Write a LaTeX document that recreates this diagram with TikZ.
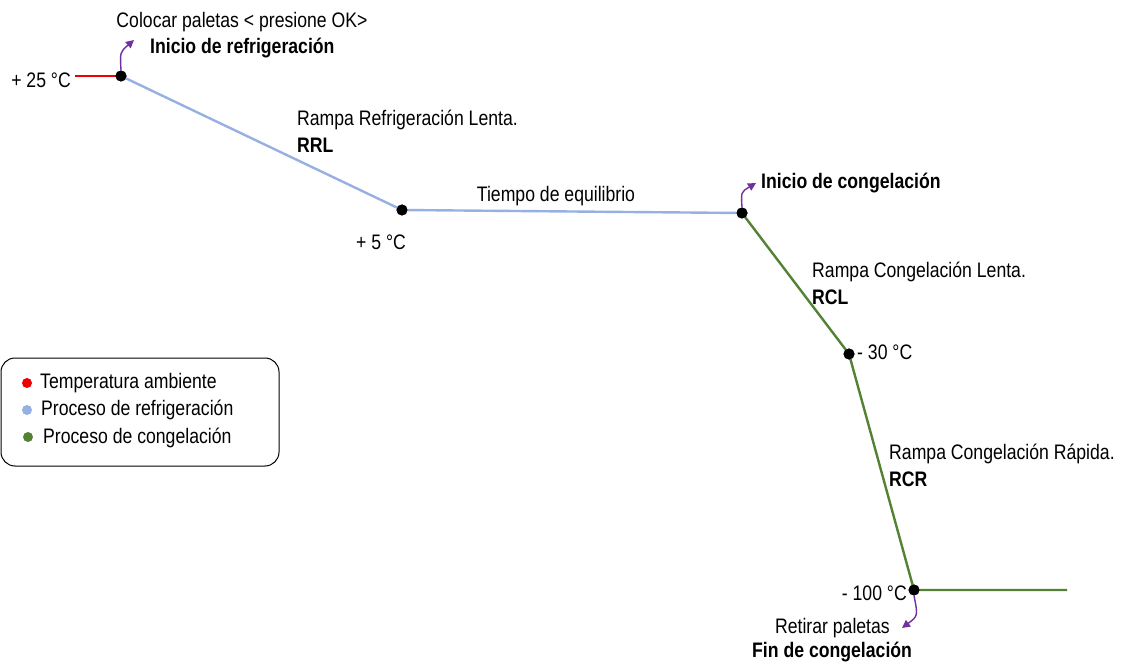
\documentclass[tikz,border=0pt]{standalone}
\usepackage{fontspec}
\setmainfont{Liberation Sans}[FakeStretch=0.84]
\usetikzlibrary{arrows.meta}
\definecolor{tred}{RGB}{238,0,0}
\definecolor{tblue}{RGB}{150,176,226}
\definecolor{tgreen}{RGB}{84,130,53}
\definecolor{tpurple}{RGB}{112,48,160}
\tikzset{
  dot/.style={circle,fill=black,inner sep=0pt,minimum size=11pt},
  seg/.style={line width=2.4pt},
  lbl/.style={font=\fontsize{21}{24}\selectfont,inner sep=0pt},
  blbl/.style={font=\fontsize{21}{24}\selectfont\bfseries,inner sep=0pt},
  callout/.style={tpurple,line width=1.4pt,-{Triangle[length=8pt,width=8pt]}},
  ldot/.style={circle,inner sep=0pt,minimum size=10pt},
}
\begin{document}
\begin{tikzpicture}[x=1pt,y=-1pt]
\useasboundingbox (0,0) rectangle (1125,663);
% points
\node[dot] (p1) at (121,76) {};
\node[dot] (p2) at (402,210) {};
\node[dot] (p3) at (742,213) {};
\node[dot] (p4) at (849,354) {};
\node[dot] (p5) at (914,590) {};
\coordinate (p0) at (75,76);
\coordinate (p6) at (1067,590);
% segments
\draw[seg,tred] (p0) -- (p1.center);
\draw[seg,tblue] (p1.center) -- (p2.center) -- (p3.center);
\draw[seg,tgreen] (p3.center) -- (p4.center) -- (p5.center) -- (p6);
\foreach \p in {p1,p2,p3,p4,p5} \node[dot] at (\p) {};
% callout arrows
\coordinate (a1) at (134,40);
\coordinate (a3) at (756,183);
\coordinate (a5) at (902,628);
\draw[callout] (p1.north) .. controls (120,52) .. (a1);
\draw[callout] (p3.north) .. controls (741,192) .. (a3);
\draw[callout] (p5.south) .. controls (918,616) .. (a5);
% labels
\node[lbl,anchor=east] (t25) at (71,80) {+ 25 °C};
\node[lbl] (col) at (242,22) {Colocar paletas < presione OK>};
\node[blbl,anchor=west] (inr) at (150,48) {Inicio de refrigeración};
\node[lbl,anchor=west] (rrl1) at (297,120) {Rampa Refrigeración Lenta.};
\node[blbl,anchor=west] (rrl2) at (297,145) {RRL};
\node[lbl] (teq) at (556,196) {Tiempo de equilibrio};
\node[lbl] (t5) at (381,242) {+ 5 °C};
\node[blbl,anchor=west] (inc) at (761,183) {Inicio de congelación};
\node[lbl,anchor=west] (rcl1) at (812,272) {Rampa Congelación Lenta.};
\node[blbl,anchor=west] (rcl2) at (812,297) {RCL};
\node[lbl,anchor=west] (t30) at (857,352) {- 30 °C};
\node[lbl,anchor=west] (rcr1) at (889,454) {Rampa Congelación Rápida.};
\node[blbl,anchor=west] (rcr2) at (889,479) {RCR};
\node[lbl,anchor=east] (t100) at (907,593) {- 100 °C};
\node[lbl,anchor=east] (ret) at (890,628) {Retirar paletas};
\node[blbl,anchor=west] (fin) at (752,652) {Fin de congelación};
% legend
\draw[line width=1pt,rounded corners=14pt] (1,358) rectangle (279,466);
\node[ldot,fill=tred] (l1) at (27,383) {};
\node[ldot,fill=tblue] (l2) at (27,410) {};
\node[ldot,fill=tgreen] (l3) at (28,437) {};
\node[lbl,anchor=west] at (40,383) {Temperatura ambiente};
\node[lbl,anchor=west] at (41,410) {Proceso de refrigeración};
\node[lbl,anchor=west] at (43,438) {Proceso de congelación};
\end{tikzpicture}
\end{document}
